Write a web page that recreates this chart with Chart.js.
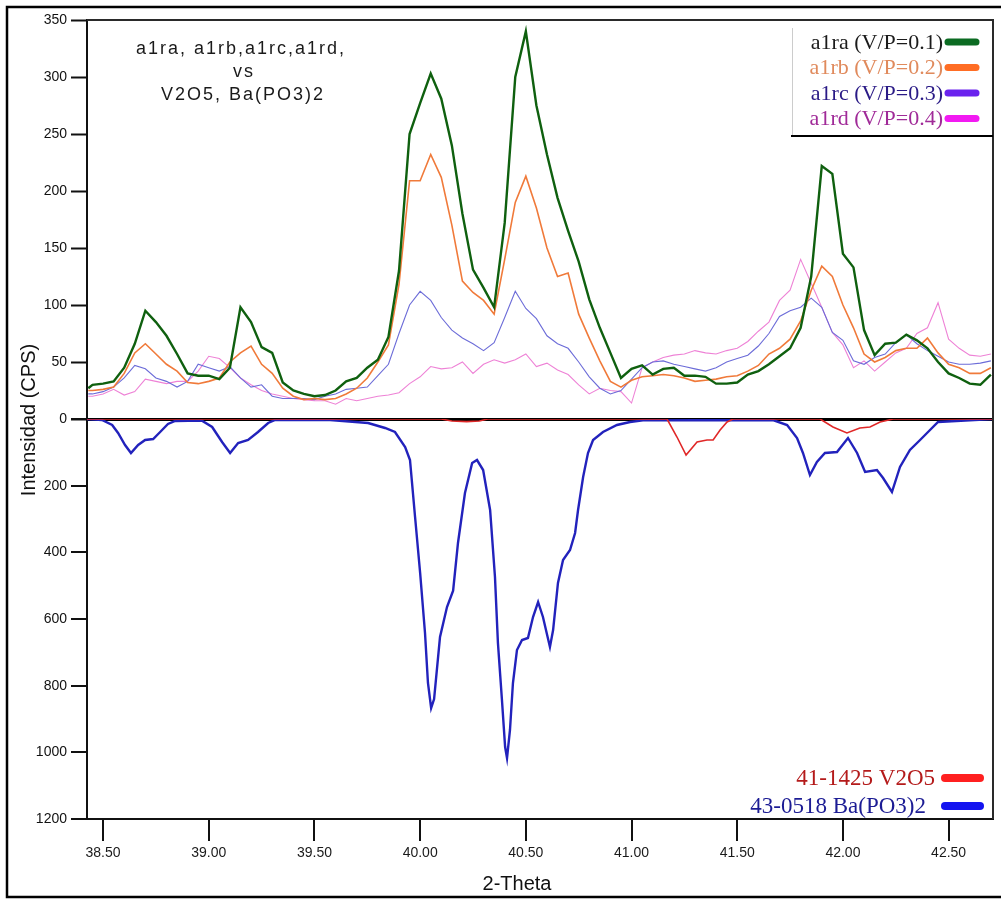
<!DOCTYPE html>
<html>
<head>
<meta charset="utf-8">
<title>a1ra-a1rd vs V2O5, Ba(PO3)2</title>
<script src="https://cdn.jsdelivr.net/npm/chart.js@4.4.0/dist/chart.umd.min.js"></script>
<style>
  html, body { margin: 0; padding: 0; background: #fff; }
  #wrap { width: 1001px; height: 899px; }
</style>
</head>
<body>
<div id="wrap"><canvas id="xrd" width="1001" height="899"></canvas></div>
<script>
// 2-theta positions of the measured patterns
const theta = [38.43,
  38.45, 38.50, 38.55, 38.60, 38.65, 38.70, 38.75, 38.80, 38.85, 38.90,
  38.95, 39.00, 39.05, 39.10, 39.15, 39.20, 39.25, 39.30, 39.35, 39.40,
  39.45, 39.50, 39.55, 39.60, 39.65, 39.70, 39.75, 39.80, 39.85, 39.90,
  39.95, 40.00, 40.05, 40.10, 40.15, 40.20, 40.25, 40.30, 40.35, 40.40,
  40.45, 40.50, 40.55, 40.60, 40.65, 40.70, 40.75, 40.80, 40.85, 40.90,
  40.95, 41.00, 41.05, 41.10, 41.15, 41.20, 41.25, 41.30, 41.35, 41.40,
  41.45, 41.50, 41.55, 41.60, 41.65, 41.70, 41.75, 41.80, 41.85, 41.90,
  41.95, 42.00, 42.05, 42.10, 42.15, 42.20, 42.25, 42.30, 42.35, 42.40,
  42.45, 42.50, 42.55, 42.60, 42.65, 42.70];

// measured intensities (CPS), upper panel
const a1ra = [27,
  30, 31, 33, 45, 66, 95, 85, 73, 57, 40,
  38, 38, 35, 45, 98, 85, 63, 58, 32, 25,
  22, 20, 21, 25, 33, 36, 45, 52, 72, 130,
  250, 277, 303, 281, 240, 180, 131, 115, 98, 172,
  300, 340, 275, 232, 194, 165, 138, 105, 80, 58,
  36, 44, 47, 39, 44, 45, 38, 38, 37, 31,
  31, 32, 39, 42, 48, 55, 62, 80, 125, 222,
  215, 145, 133, 78, 56, 66, 67, 74, 69, 62,
  50, 40, 36, 31, 30, 39];
const a1rb = [25,
  25, 26, 28, 40, 58, 66, 57, 48, 42, 32,
  31, 33, 36, 50, 58, 64, 48, 40, 27, 20,
  17, 18, 17, 18, 22, 27, 36, 50, 65, 118,
  209, 209, 232, 212, 170, 121, 111, 104, 92, 140,
  190, 213, 185, 150, 125, 128, 92, 71, 51, 33,
  28, 34, 37, 38, 39, 38, 36, 33, 34, 35,
  37, 38, 42, 47, 57, 62, 70, 86, 113, 134,
  125, 100, 80, 57, 50, 54, 60, 62, 62, 71,
  58, 48, 45, 40, 40, 45];
const a1rc = [22,
  22, 24, 28, 36, 47, 44, 36, 33, 28, 33,
  48, 45, 42, 46, 36, 28, 30, 20, 18, 18,
  18, 17, 20, 22, 26, 27, 28, 38, 48, 75,
  100, 112, 104, 89, 78, 71, 66, 60, 67, 89,
  112, 97, 88, 73, 66, 62, 50, 37, 27, 22,
  25, 35, 45, 50, 51, 48, 46, 44, 42, 45,
  50, 53, 56, 64, 75, 90, 95, 98, 106, 98,
  76, 69, 51, 48, 54, 57, 67, 74, 66, 60,
  55, 50, 48, 48, 49, 51];
const a1rd = [20,
  20, 22, 26, 21, 24, 35, 33, 31, 33, 33,
  42, 55, 53, 45, 36, 30, 25, 22, 20, 18,
  17, 16, 16, 13, 18, 16, 18, 20, 21, 23,
  31, 37, 46, 44, 45, 50, 40, 48, 52, 49,
  52, 57, 46, 49, 43, 39, 30, 22, 27, 25,
  24, 14, 45, 50, 54, 56, 57, 60, 58, 57,
  60, 62, 68, 77, 85, 104, 113, 140, 119, 98,
  76, 65, 45, 51, 42, 50, 58, 62, 75, 80,
  102, 70, 62, 56, 55, 57];

// reference patterns, lower panel (drawn downwards)
const baTheta = [38.424, 38.495, 38.543, 38.571, 38.604, 38.632, 38.666, 38.699, 38.737, 38.770,
  38.807, 38.841, 38.968, 39.016, 39.063, 39.101, 39.139, 39.186, 39.233, 39.281,
  39.314, 39.574, 39.754, 39.834, 39.881, 39.929, 39.952, 39.976, 40.000, 40.023,
  40.037, 40.052, 40.066, 40.094, 40.127, 40.156, 40.179, 40.212, 40.246, 40.269,
  40.298, 40.331, 40.354, 40.368, 40.387, 40.402, 40.411, 40.425, 40.439, 40.458,
  40.482, 40.510, 40.534, 40.558, 40.581, 40.614, 40.629, 40.652, 40.676, 40.709,
  40.733, 40.747, 40.771, 40.794, 40.818, 40.865, 40.931, 40.993, 41.054, 41.669,
  41.736, 41.783, 41.811, 41.844, 41.877, 41.915, 41.972, 42.024, 42.067, 42.105,
  42.161, 42.190, 42.232, 42.270, 42.317, 42.365, 42.412, 42.450, 42.710];
const baInt = [0, 3, 18, 42, 78, 102, 78, 63, 60, 39,
  15, 6, 5, 24, 69, 102, 72, 63, 39, 12,
  3, 3, 12, 27, 39, 84, 123, 294, 462, 642,
  792, 867, 840, 654, 564, 515, 372, 222, 132, 123,
  153, 273, 474, 672, 843, 984, 1017, 933, 792, 693,
  663, 657, 594, 549, 594, 684, 633, 492, 423, 393,
  342, 273, 174, 102, 63, 39, 18, 9, 4, 3,
  18, 57, 102, 168, 129, 102, 99, 57, 102, 159,
  153, 177, 219, 144, 93, 63, 33, 9, 0];
const vTheta = [38.424, 40.10, 40.15, 40.22, 40.28, 40.32, 41.168, 41.215, 41.258, 41.310,
  41.357, 41.386, 41.419, 41.452, 41.480, 41.892, 41.953, 42.019, 42.080, 42.128,
  42.176, 42.237, 42.710];
const vInt = [0, 0, 6, 8, 6, 0, 0, 54, 108, 69,
  63, 63, 33, 9, 0, 0, 24, 42, 27, 24,
  9, 0, 0];

const xTicks = [38.5, 39.0, 39.5, 40.0, 40.5, 41.0, 41.5, 42.0, 42.5];
const topTicks = [0, 50, 100, 150, 200, 250, 300, 350];
const bottomTicks = [0, 200, 400, 600, 800, 1000, 1200];

const sampleNames = ['a1ra (V/P=0.1)', 'a1rb (V/P=0.2)', 'a1rc (V/P=0.3)', 'a1rd (V/P=0.4)'];
const refNames = ['41-1425 V2O5', '43-0518 Ba(PO3)2'];
const titleLines = ['a1ra, a1rb,a1rc,a1rd,', 'vs', 'V2O5, Ba(PO3)2'];

const sans = '"Liberation Sans", Arial, sans-serif';
const serif = '"Liberation Serif", "Times New Roman", serif';

function pts(xs, ys) {
  return xs.map((x, i) => ({ x: x, y: ys[i] }));
}

function line(label, data, axis, color, width) {
  return {
    label: label,
    data: data,
    yAxisID: axis,
    borderColor: color,
    borderWidth: width,
    pointRadius: 0,
    tension: 0,
    fill: false
  };
}

// legend entries: label text colour, swatch colour
const topLegend = [
  { text: sampleNames[0], ink: '#1b1b1b', swatch: '#0b6b22' },
  { text: sampleNames[1], ink: '#e08a5c', swatch: '#ff6d24' },
  { text: sampleNames[2], ink: '#2a1a86', swatch: '#6a22ee' },
  { text: sampleNames[3], ink: '#a02a98', swatch: '#f21af2' }
];
const bottomLegend = [
  { text: refNames[0], ink: '#b41a1a', swatch: '#ff2020' },
  { text: refNames[1], ink: '#1c1c94', swatch: '#1414f0' }
];

const decor = {
  id: 'decor',
  afterDraw(chart) {
    const ctx = chart.ctx;
    const a = chart.chartArea;
    ctx.save();

    // plot frame (top + right)
    ctx.strokeStyle = '#2a2a2a';
    ctx.lineWidth = 2;
    ctx.beginPath();
    ctx.moveTo(a.left, a.top);
    ctx.lineTo(a.right, a.top);
    ctx.lineTo(a.right, a.bottom);
    ctx.stroke();

    // outer picture frame
    ctx.strokeStyle = '#000';
    ctx.lineWidth = 2.5;
    ctx.beginPath();
    ctx.moveTo(1001, 7);
    ctx.lineTo(7, 7);
    ctx.lineTo(7, 897);
    ctx.lineTo(1001, 897);
    ctx.stroke();

    // annotation
    ctx.fillStyle = '#1a1a1a';
    ctx.font = '18px ' + sans;
    ctx.textAlign = 'center';
    ctx.textBaseline = 'middle';
    ctx.letterSpacing = '2px';
    ctx.fillText(titleLines[0], 241, 49);
    ctx.fillText(titleLines[1], 244, 72);
    ctx.fillText(titleLines[2], 243, 95);
    ctx.letterSpacing = '0px';

    // top-right legend box
    ctx.fillStyle = '#fff';
    ctx.fillRect(792, a.top + 1, a.right - 793, 136 - a.top - 1);
    ctx.strokeStyle = '#ccc';
    ctx.lineWidth = 1;
    ctx.beginPath();
    ctx.moveTo(792.5, a.top + 8);
    ctx.lineTo(792.5, 136);
    ctx.stroke();
    ctx.strokeStyle = '#000';
    ctx.lineWidth = 2;
    ctx.beginPath();
    ctx.moveTo(791, 136);
    ctx.lineTo(a.right, 136);
    ctx.stroke();

    ctx.font = '22px ' + serif;
    ctx.textAlign = 'right';
    ctx.lineCap = 'round';
    topLegend.forEach((e, i) => {
      const y = 42 + i * 25.5;
      ctx.fillStyle = e.ink;
      ctx.fillText(e.text, 943, y + 1);
      ctx.strokeStyle = e.swatch;
      ctx.lineWidth = 7;
      ctx.beginPath();
      ctx.moveTo(948, y);
      ctx.lineTo(976, y);
      ctx.stroke();
    });

    ctx.font = '23px ' + serif;
    bottomLegend.forEach((e, i) => {
      const y = 778 + i * 28;
      ctx.fillStyle = e.ink;
      ctx.fillText(e.text, i === 0 ? 935 : 926, y + 1);
      ctx.strokeStyle = e.swatch;
      ctx.lineWidth = 8;
      ctx.beginPath();
      ctx.moveTo(945, y);
      ctx.lineTo(980, y);
      ctx.stroke();
    });

    // axis titles
    ctx.fillStyle = '#111';
    ctx.font = '20px ' + sans;
    ctx.textAlign = 'center';
    ctx.fillText('2-Theta', 517, 884);
    ctx.translate(29, 420);
    ctx.rotate(-Math.PI / 2);
    ctx.fillText('Intensidad (CPS)', 0, 0);

    ctx.restore();
  }
};

const tickFont = { family: sans, size: 14 };

new Chart(document.getElementById('xrd'), {
  type: 'line',
  data: {
    datasets: [
      line(sampleNames[0], pts(theta, a1ra), 'yTop', '#0f600f', 2.4),
      line(sampleNames[1], pts(theta, a1rb), 'yTop', '#f07a3a', 1.6),
      line(sampleNames[2], pts(theta, a1rc), 'yTop', '#6c6cd8', 1.1),
      line(sampleNames[3], pts(theta, a1rd), 'yTop', '#ee82d6', 1.1),
      line(refNames[0], pts(vTheta, vInt), 'yBot', '#e02828', 1.6),
      line(refNames[1], pts(baTheta, baInt), 'yBot', '#2222bc', 2.4)
    ]
  },
  options: {
    responsive: false,
    animation: false,
    devicePixelRatio: 1,
    layout: { padding: { left: 0, top: 20, right: 8, bottom: 0 } },
    plugins: {
      legend: { display: false },
      title: { display: false },
      tooltip: { enabled: false }
    },
    scales: {
      x: {
        type: 'linear',
        min: 38.424,
        max: 42.71,
        afterBuildTicks: s => { s.ticks = xTicks.map(v => ({ value: v })); },
        afterFit: s => { s.height = 80; },
        border: { display: true, color: '#111', width: 2 },
        grid: { drawOnChartArea: false, tickLength: 22, color: '#111', lineWidth: 2 },
        ticks: {
          padding: 4, autoSkip: false, maxRotation: 0, color: '#1a1a1a', font: tickFont,
          callback: v => Number(v).toFixed(2)
        }
      },
      yBot: {
        type: 'linear',
        position: 'left',
        stack: 'intens',
        stackWeight: 400,
        reverse: true,
        min: 0,
        max: 1200,
        afterBuildTicks: s => { s.ticks = bottomTicks.map(v => ({ value: v })); },
        afterFit: s => { s.width = 87; },
        border: { display: true, color: '#111', width: 2 },
        grid: { drawOnChartArea: false, tickLength: 16, color: '#111', lineWidth: 2 },
        ticks: {
          padding: 4, color: '#111', font: tickFont,
          callback: v => (v === 0 ? '' : String(v))
        }
      },
      yTop: {
        type: 'linear',
        position: 'left',
        stack: 'intens',
        stackWeight: 399,
        min: 0,
        max: 350,
        afterBuildTicks: s => { s.ticks = topTicks.map(v => ({ value: v })); },
        afterFit: s => { s.width = 87; },
        border: { display: true, color: '#111', width: 2 },
        grid: {
          drawOnChartArea: true,
          tickLength: 16,
          color: c => (c.tick && c.tick.value === 0 ? '#000' : 'rgba(0,0,0,0)'),
          lineWidth: c => (c.tick && c.tick.value === 0 ? 3 : 1),
          tickColor: '#111',
          tickWidth: 2
        },
        ticks: { padding: 4, color: '#111', font: tickFont }
      }
    }
  },
  plugins: [decor]
});
</script>
</body>
</html>
